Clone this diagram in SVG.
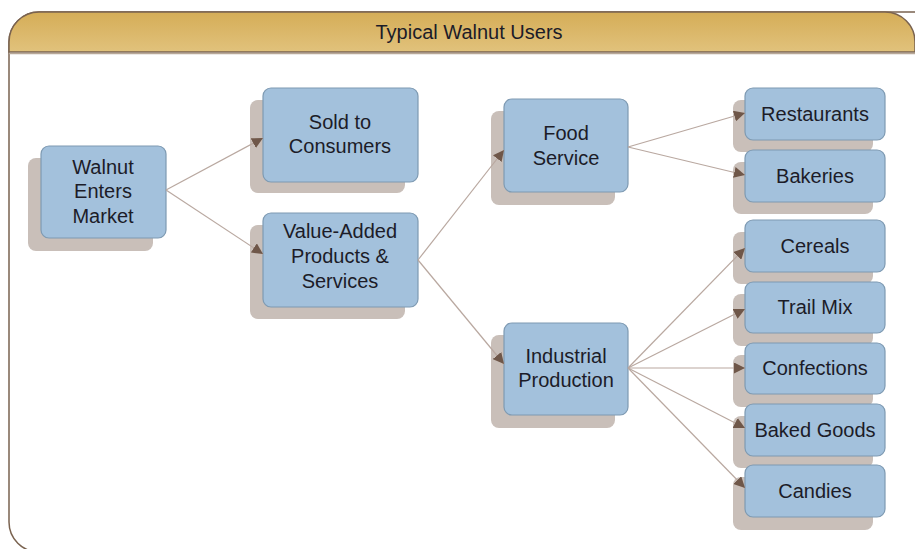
<svg xmlns="http://www.w3.org/2000/svg" width="915" height="549" viewBox="0 0 915 549">
<defs>
<linearGradient id="hdr" x1="0" y1="0" x2="0" y2="1">
<stop offset="0" stop-color="#d5ad57"/>
<stop offset="1" stop-color="#e1c27c"/>
</linearGradient>
<marker id="arr" viewBox="0 0 10 10" refX="10" refY="5" markerWidth="11" markerHeight="11" markerUnits="userSpaceOnUse" orient="auto">
<path d="M0,0 L10,5 L0,10 Z" fill="#6f5749"/>
</marker>
</defs>
<style>
.frame{fill:#ffffff;stroke:#7a6350;stroke-width:1.5}
.shadow{fill:#c9bfb9}
.box{fill:#a3c1dc;stroke:#7e9ab2;stroke-width:1.2}
.t{font-family:"Liberation Sans",Arial,sans-serif;font-size:20px;fill:#1c1c28;text-anchor:middle}
.c{fill:none;stroke:#b9a8a0;stroke-width:1.2;marker-end:url(#arr)}
</style>
<rect width="915" height="549" fill="#ffffff"/>
<rect class="frame" x="9" y="12" width="940" height="540" rx="30" ry="30"/>
<path d="M9,52 L9,42 A30,30 0 0 1 39,12 L885,12 A30,30 0 0 1 915,42 L915,52 Z" fill="url(#hdr)" stroke="#7a6350" stroke-width="1.5"/>
<line x1="9" y1="53.5" x2="915" y2="53.5" stroke="#b8a898" stroke-width="1.5"/>
<text class="t" x="469" y="39" id="title">Typical Walnut Users</text>

<g id="walnut">
<rect class="shadow" x="28" y="158" width="125" height="93" rx="8"/>
<rect class="box" x="41" y="146" width="125" height="92" rx="8"/>
<text class="t" x="103" y="174">Walnut</text>
<text class="t" x="103" y="198">Enters</text>
<text class="t" x="103" y="223">Market</text>
</g>

<g id="sold">
<rect class="shadow" x="250" y="100" width="155" height="93" rx="8"/>
<rect class="box" x="263" y="88" width="155" height="94" rx="8"/>
<text class="t" x="340" y="129">Sold to</text>
<text class="t" x="340" y="153">Consumers</text>
</g>

<g id="valueadded">
<rect class="shadow" x="250" y="225" width="155" height="94" rx="8"/>
<rect class="box" x="263" y="213" width="155" height="94" rx="8"/>
<text class="t" x="340" y="238">Value-Added</text>
<text class="t" x="340" y="263">Products &amp;</text>
<text class="t" x="340" y="288">Services</text>
</g>

<g id="foodservice">
<rect class="shadow" x="491" y="111" width="124" height="94" rx="8"/>
<rect class="box" x="504" y="99" width="124" height="93" rx="8"/>
<text class="t" x="566" y="140">Food</text>
<text class="t" x="566" y="165">Service</text>
</g>

<g id="industrial">
<rect class="shadow" x="491" y="335" width="124" height="93" rx="8"/>
<rect class="box" x="504" y="323" width="124" height="92" rx="8"/>
<text class="t" x="566" y="363">Industrial</text>
<text class="t" x="566" y="387">Production</text>
</g>

<g id="restaurants">
<rect class="shadow" x="733" y="100" width="140" height="52" rx="8"/>
<rect class="box" x="745" y="88" width="140" height="52" rx="8"/>
<text class="t" x="815" y="121">Restaurants</text>
</g>

<g id="bakeries">
<rect class="shadow" x="733" y="162" width="140" height="52" rx="8"/>
<rect class="box" x="745" y="150" width="140" height="52" rx="8"/>
<text class="t" x="815" y="183">Bakeries</text>
</g>

<g id="cereals">
<rect class="shadow" x="733" y="232" width="140" height="52" rx="8"/>
<rect class="box" x="745" y="220" width="140" height="52" rx="8"/>
<text class="t" x="815" y="253">Cereals</text>
</g>

<g id="trailmix">
<rect class="shadow" x="733" y="294" width="140" height="52" rx="8"/>
<rect class="box" x="745" y="282" width="140" height="51" rx="8"/>
<text class="t" x="815" y="314">Trail Mix</text>
</g>

<g id="confections">
<rect class="shadow" x="733" y="355" width="140" height="52" rx="8"/>
<rect class="box" x="745" y="343" width="140" height="51" rx="8"/>
<text class="t" x="815" y="375">Confections</text>
</g>

<g id="bakedgoods">
<rect class="shadow" x="733" y="416" width="140" height="52" rx="8"/>
<rect class="box" x="745" y="404" width="140" height="52" rx="8"/>
<text class="t" x="815" y="437">Baked Goods</text>
</g>

<g id="candies">
<rect class="shadow" x="733" y="477" width="140" height="53" rx="8"/>
<rect class="box" x="745" y="465" width="140" height="52" rx="8"/>
<text class="t" x="815" y="498">Candies</text>
</g>

<g id="connectors">
<line class="c" x1="166" y1="190" x2="263" y2="138"/>
<line class="c" x1="166" y1="190" x2="263" y2="254"/>
<line class="c" x1="418" y1="260" x2="504" y2="150"/>
<line class="c" x1="418" y1="260" x2="504" y2="364"/>
<line class="c" x1="628" y1="147" x2="745" y2="113"/>
<line class="c" x1="628" y1="147" x2="745" y2="175"/>
<line class="c" x1="628" y1="368" x2="745" y2="248"/>
<line class="c" x1="628" y1="368" x2="745" y2="309"/>
<line class="c" x1="628" y1="368" x2="745" y2="368"/>
<line class="c" x1="628" y1="368" x2="745" y2="428"/>
<line class="c" x1="628" y1="368" x2="745" y2="488"/>
</g>
</svg>
